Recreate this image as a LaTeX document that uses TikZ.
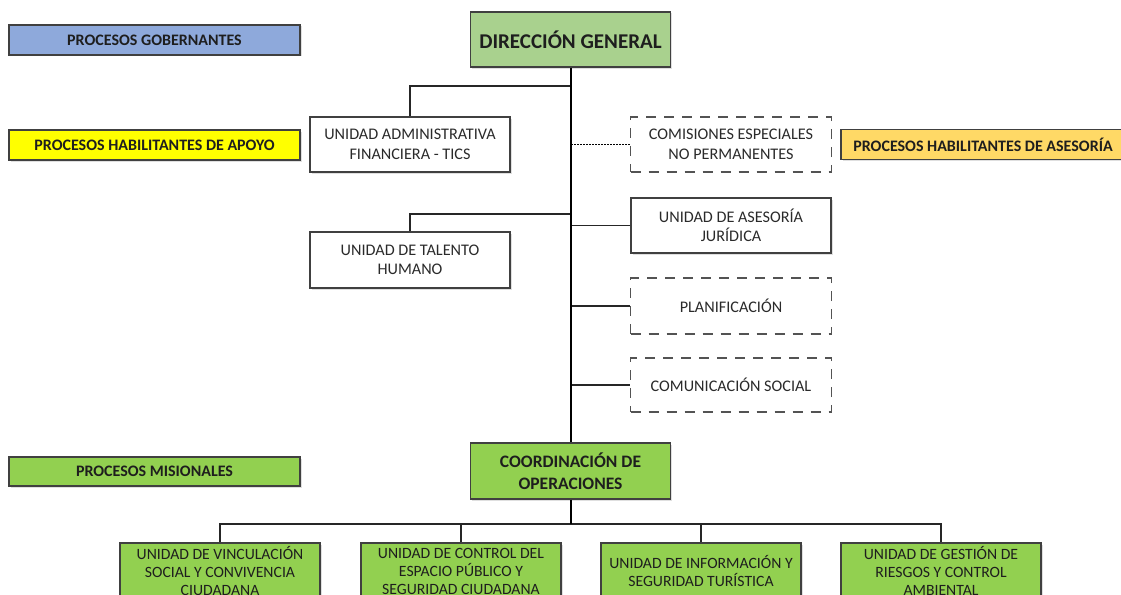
\documentclass[tikz,border=0pt]{standalone}
\usepackage{fontspec}
\setmainfont{Carlito}
\usetikzlibrary{shadows}
\definecolor{gobblue}{HTML}{8EA9DB}
\definecolor{apoyoyellow}{HTML}{FFFF00}
\definecolor{asesgold}{HTML}{FFD966}
\definecolor{dirgreen}{HTML}{A9D18E}
\definecolor{misgreen}{HTML}{92D050}
\definecolor{boxline}{HTML}{404040}
\definecolor{txtgray}{HTML}{2A2A2A}
\definecolor{txtdark}{HTML}{1E1E1E}
\newcommand{\regfont}{\fontsize{16.2}{19.5}\selectfont}
\newcommand{\botfont}{\fontsize{15.7}{18}\selectfont}
\newcommand{\labfont}{\bfseries\fontsize{16}{19}\selectfont}
\tikzset{
  softshadow/.style={drop shadow={opacity=0.25, shadow xshift=1.5pt, shadow yshift=-1.5pt}},
  unitbox/.style={draw=boxline, line width=1.1pt, fill=white, minimum width=200pt, minimum height=55pt,
    inner sep=0pt, align=center, font=\regfont, text=txtgray},
  dashbox/.style={draw=boxline!90, line width=1.1pt, dash pattern=on 10pt off 8pt, fill=white,
    minimum width=201pt, minimum height=55pt, inner sep=0pt, align=center, font=\regfont, text=txtgray},
  legendbox/.style={draw=boxline, line width=1.1pt, minimum width=291pt, minimum height=30pt,
    inner sep=0pt, align=center, font=\labfont, text=txtdark, softshadow},
  headbox/.style={draw=boxline, line width=1.1pt, minimum width=200pt, minimum height=55pt,
    inner sep=0pt, align=center, text=txtdark, softshadow},
  botbox/.style={draw=boxline, line width=1.1pt, fill=misgreen, minimum width=200pt, minimum height=56pt,
    inner sep=0pt, align=center, font=\botfont, text=txtdark, softshadow},
  conn/.style={draw=black!85, line width=1.1pt},
  trunk/.style={draw=black, line width=2.2pt},
  dotconn/.style={draw=black, line width=1.3pt, dash pattern=on 1.6pt off 1.4pt},
}
\begin{document}
\begin{tikzpicture}[x=1pt,y=-1pt]
\useasboundingbox (0,0) rectangle (1121,594);
\clip (0,0) rectangle (1121,594);
\fill[white] (0,0) rectangle (1121,594);

% legend boxes
\node[legendbox, fill=gobblue] (gob) at (154.5,40) {PROCESOS GOBERNANTES};
\node[legendbox, fill=apoyoyellow] (apoyo) at (154.5,145) {PROCESOS HABILITANTES DE APOYO};
\node[legendbox, fill=asesgold, minimum width=290pt] (ases) at (986,144.5) {\hspace*{-6pt}PROCESOS HABILITANTES DE ASESORÍA};
\node[legendbox, fill=misgreen, minimum height=29pt] (mis) at (154.5,471.5) {PROCESOS MISIONALES};

% head boxes
\node[headbox, fill=dirgreen, font=\bfseries\fontsize{21}{24}\selectfont] (dir) at (570.5,39.5) {DIRECCIÓN GENERAL};
\node[headbox, fill=misgreen, minimum height=56pt, font=\bfseries\fontsize{17.5}{22}\selectfont] (coord) at (570.5,471) {COORDINACIÓN DE\\OPERACIONES};

% left units
\node[unitbox, softshadow] (uaf) at (410,144.5) {UNIDAD ADMINISTRATIVA\\FINANCIERA - TICS};
\node[unitbox, softshadow, minimum height=56pt] (th) at (410,260) {UNIDAD DE TALENTO\\HUMANO};

% right units
\node[dashbox] (com) at (731,144.5) {COMISIONES ESPECIALES\\NO PERMANENTES};
\node[unitbox, softshadow] (jur) at (731,225.5) {UNIDAD DE ASESORÍA\\JURÍDICA};
\node[dashbox, minimum height=56pt] (plan) at (731,306) {PLANIFICACIÓN};
\node[dashbox, minimum height=54pt] (cs) at (731,385) {COMUNICACIÓN SOCIAL};

% bottom units
\node[botbox] (b1) at (220,571) {UNIDAD DE VINCULACIÓN\\SOCIAL Y CONVIVENCIA\\CIUDADANA};
\node[botbox] (b2) at (461,571) {UNIDAD DE CONTROL DEL\\ESPACIO PÚBLICO Y\\SEGURIDAD CIUDADANA};
\node[botbox] (b3) at (701,571) {UNIDAD DE INFORMACIÓN Y\\SEGURIDAD TURÍSTICA};
\node[botbox] (b4) at (941,571) {UNIDAD DE GESTIÓN DE\\RIESGOS Y CONTROL\\AMBIENTAL};

% junction coordinates
\coordinate (juaf) at (571,86);
\coordinate (jth) at (571,214);
\coordinate (bus) at (571,524);

% connectors
\draw[conn] (uaf.north) |- (juaf);
\draw[conn] (th.north) |- (jth);
\draw[dotconn] (com.west) -- (com.west -| juaf);
\draw[conn] (jur.west) -- (jur.west -| juaf);
\draw[conn] (plan.west) -- (plan.west -| juaf);
\draw[conn] (cs.west) -- (cs.west -| juaf);
\draw[conn] (b1.north) |- (bus);
\draw[conn] (b2.north) |- (bus);
\draw[conn] (b3.north) |- (bus);
\draw[conn] (b4.north) |- (bus);
\draw[trunk] (dir.south -| juaf) -- (coord.north -| juaf);
\draw[trunk] (coord.south -| juaf) -- (bus);
\end{tikzpicture}
\end{document}
